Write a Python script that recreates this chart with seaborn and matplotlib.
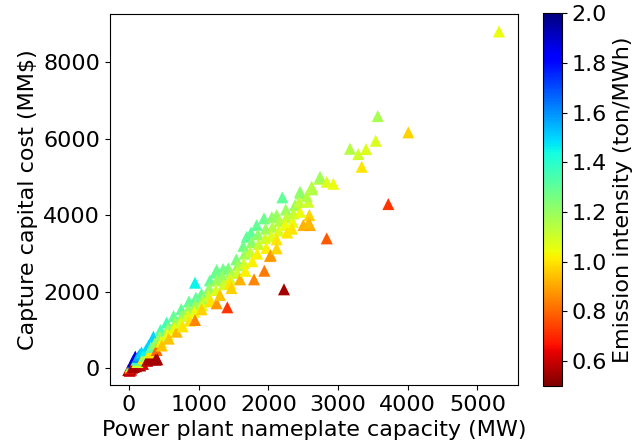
import numpy as np
import pandas as pd
import matplotlib
matplotlib.use("Agg")
import matplotlib.pyplot as plt
import seaborn as sns

# capacity (MW), capture capital cost (MM$), emission intensity (ton/MWh)
capacity = [
    -10, 10, 30, 15, 25, 40, 50, 60, 80, 90, 45, 70, 100, 130, 160, 200, 140, 120, 110, 130,
    150, 180, 200, 230, 260, 280, 301, 320, 240, 280, 300, 320, 350, 370, 397, 406, 380,
    450, 440, 460, 470, 540, 560, 550, 570, 640, 660, 650, 684, 750, 760, 740, 770,
    860, 850, 840, 870, 960, 950, 940, 947, 947, 1040, 1060, 1050, 1043,
    1160, 1150, 1140, 1170, 1240, 1258, 1260, 1250, 1258, 1350, 1340, 1360, 1306, 1411,
    1425, 1460, 1450, 1449, 1470, 1540, 1560, 1550, 1593, 1640, 1689, 1660, 1650, 1670,
    1750, 1760, 1740, 1770, 1794, 1832, 1850, 1860, 1840, 1942, 1937, 1960, 1950, 1970,
    2050, 2060, 2040, 2023, 2033, 2119, 2160, 2150, 2119, 2119, 2200, 2224,
    2250, 2260, 2240, 2270, 2349, 2382, 2360, 2340, 2454, 2464, 2454, 2440, 2501,
    2573, 2588, 2597, 2573, 2550, 2621, 2630, 2736, 2741, 2837, 2932, 2837,
    3171, 3290, 3401, 3339, 3540, 3569, 4008, 3721, 5308,
]
cost = [
    -40, -60, -30, 10, 50, 100, 160, 200, 260, 310, 20, 40, 60, 90, 80, 120, 200, 170, 230, 300,
    360, 420, 260, 320, 200, 250, 266, 240, 480, 600, 420, 560, 830, 650, 483, 240, 230,
    1000, 850, 700, 600, 1200, 1050, 900, 780, 1370, 1200, 1050, 961, 1550, 1380, 1200, 1100,
    1750, 1550, 1400, 1250, 1850, 1650, 1480, 1266, 2240, 1950, 1800, 1650, 1545,
    2300, 2100, 1900, 1750, 2500, 2571, 2300, 2050, 1702, 2600, 2400, 2200, 1918, 1597,
    2615, 2500, 2350, 2224, 2100, 2850, 2700, 2500, 2328, 3200, 3440, 3000, 2750, 2550,
    3550, 3300, 3050, 2800, 2328, 3745, 3500, 3250, 3000, 2553, 3920, 3650, 3400, 3150,
    3950, 3700, 3450, 2936, 2960, 4006, 3850, 3600, 3372, 3137, 4468, 2067,
    4150, 3950, 3750, 3550, 3831, 4267, 4050, 3650, 4614, 4572, 4092, 4350, 3745,
    4353, 4006, 3745, 3789, 4500, 4745, 4677, 4954, 5006, 4876, 4823, 3398,
    5737, 5598, 5729, 5267, 5946, 6590, 6165, 4293, 8800,
]
intensity = [
    0.55, 0.60, 0.58, 0.75, 1.00, 1.30, 1.70, 1.95, 1.90, 1.85, 0.60, 0.55, 0.57, 0.55, 0.55, 0.60, 0.90, 1.10, 1.35, 1.60,
    1.55, 1.50, 1.00, 1.20, 0.60, 0.55, 0.55, 0.55, 1.45, 1.50, 1.00, 1.30, 1.50, 1.20, 0.80, 0.55, 0.55,
    1.35, 1.20, 1.05, 0.95, 1.35, 1.20, 1.05, 0.95, 1.30, 1.18, 1.05, 0.93, 1.30, 1.20, 1.08, 1.00,
    1.30, 1.20, 1.08, 1.00, 1.30, 1.18, 1.05, 0.85, 1.45, 1.28, 1.18, 1.08, 0.97,
    1.30, 1.20, 1.10, 1.00, 1.30, 1.28, 1.18, 1.08, 0.88, 1.27, 1.20, 1.10, 0.95, 0.72,
    1.25, 1.18, 1.10, 1.00, 0.97, 1.25, 1.18, 1.10, 0.92, 1.27, 1.30, 1.20, 1.10, 1.02,
    1.30, 1.22, 1.12, 1.02, 0.85, 1.30, 1.22, 1.12, 1.02, 0.83, 1.28, 1.20, 1.10, 1.02,
    1.22, 1.15, 1.08, 0.90, 0.88, 1.20, 1.15, 1.08, 1.00, 0.98, 1.30, 0.55,
    1.20, 1.12, 1.05, 1.00, 1.05, 1.20, 1.12, 1.00, 1.20, 1.22, 1.05, 1.12, 0.92,
    1.10, 0.97, 0.90, 0.93, 1.15, 1.15, 1.15, 1.15, 1.18, 1.08, 1.05, 0.78,
    1.15, 1.10, 1.07, 1.00, 1.08, 1.17, 0.97, 0.72, 1.05,
]

df = pd.DataFrame({"cap": capacity, "cost": cost, "ei": intensity})

sns.set_style("ticks", rc={"text.color": "black", "axes.labelcolor": "black",
                           "xtick.color": "black", "ytick.color": "black",
                           "axes.edgecolor": "black"})
plt.rcParams["font.family"] = ["DejaVu Sans"]
fs = 16

fig = plt.figure(figsize=(6.39, 4.47), dpi=100)
ax = fig.add_axes([0.1721, 0.1387, 0.638, 0.830])
cax = fig.add_axes([0.8493, 0.137, 0.0302, 0.833])

norm = matplotlib.colors.Normalize(vmin=0.5, vmax=2.0)
sns.scatterplot(data=df, x="cap", y="cost", hue="ei", palette="jet_r", hue_norm=norm,
                marker="^", s=75, linewidth=0, legend=False, ax=ax)

ax.set_xlim(-273, 5577)
ax.set_ylim(-431, 9256)
ax.set_xticks([0, 1000, 2000, 3000, 4000, 5000])
ax.set_yticks([0, 2000, 4000, 6000, 8000])
ax.set_xlabel("Power plant nameplate capacity (MW)", fontsize=fs)
ax.set_ylabel("Capture capital cost (MM$)", fontsize=fs)
ax.tick_params(labelsize=fs)
for sp in ax.spines.values():
    sp.set_visible(True)
    sp.set_color("black")

sm = matplotlib.cm.ScalarMappable(norm=norm, cmap="jet_r")
cb = fig.colorbar(sm, cax=cax)
cb.set_ticks([0.6, 0.8, 1.0, 1.2, 1.4, 1.6, 1.8, 2.0])
cb.ax.tick_params(labelsize=fs)
cb.set_label("Emission intensity (ton/MWh)", fontsize=fs)

fig.savefig("out.png", dpi=100)
